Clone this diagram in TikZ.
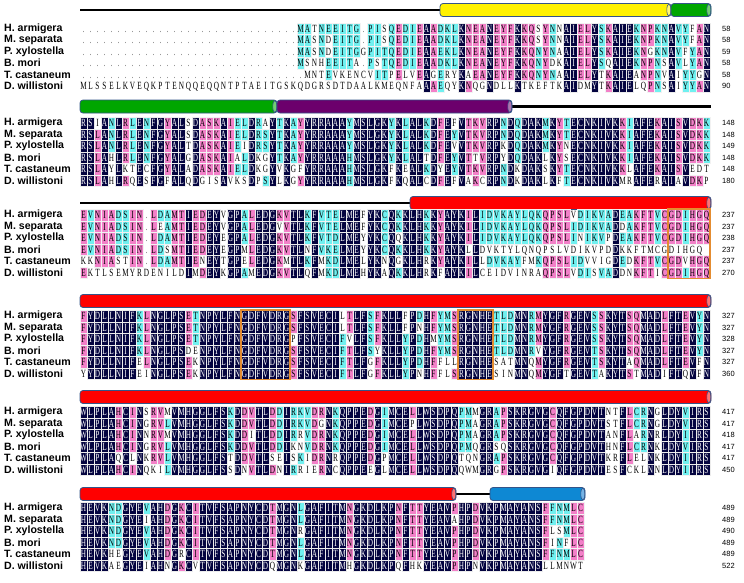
\documentclass[tikz,border=0pt]{standalone}
\usepackage{fontspec}
\setmainfont{Liberation Sans}
\newfontfamily\seqfont[FakeStretch=0.66]{Liberation Serif}
\definecolor{alnnavy}{RGB}{4,4,64}
\definecolor{alnpink}{RGB}{242,128,200}
\definecolor{alncyan}{RGB}{112,240,240}
\definecolor{boxorange}{RGB}{228,140,48}
\definecolor{cylline}{RGB}{52,84,136}

% grid of the alignment (1 unit = 1 px of the figure)
\newcommand\seqx{80}
\newcommand\seqw{7.0}
\newcommand\seqh{11.5}

\tikzset{
  res/.style={inner sep=0pt, minimum width=7pt, minimum height=11.5pt,
              text height=7.2pt, text depth=0pt,
              font=\seqfont\fontsize{11}{11}\selectfont, text=black},
  idc/.style={res, fill=alnnavy, draw=white!85!gray, line width=0.3pt, text=white},
  hic/.style={res, fill=alnpink, draw=white!90!gray, line width=0.3pt},
  mdc/.style={res, fill=alncyan, draw=white!90!gray, line width=0.3pt},
  noc/.style={res},
  gapc/.style={res, text=black!55},
  taxon/.style={font=\bfseries\fontsize{10.6}{11}\selectfont, anchor=west, inner sep=0pt},
  num/.style={font=\fontsize{7.5}{8}\selectfont, anchor=west, inner sep=0pt},
  motif/.style={draw=boxorange, line width=1.4pt}
}

\newcommand\rescell[4]{%
  \node[#3] (r\blk-#2-#1) at ({\seqx+(#1-0.5)*\seqw},{\blky+(#2-1)*\seqh}) {#4};}

% cylinder for a helix: x from, x to, y, colour
\newcommand\helix[4]{%
  \draw[cylline, line width=0.8pt, fill=#4, rounded corners=3pt] (#1,#3-6.5) rectangle (#2,#3+6.5);
  \draw[cylline, line width=0.6pt, fill=#4!55!white] (#2-2.2,#3) ellipse (2pt and 6pt);}

\ExplSyntaxOn
\int_step_inline:nn { 6 } { \str_new:c { l_aln_row_#1_str } }
\str_new:N \l_aln_c_str
\int_new:N \l_aln_cnt_int
\tl_new:N \l_aln_sty_tl
\cs_generate_variant:Nn \str_item:Nn { c }
\cs_new_protected:Npn \aln_col:n #1
 {
  \int_step_inline:nn { 6 }
   {
    \str_set:Nx \l_aln_c_str { \str_item:cn { l_aln_row_##1_str } { #1 } }
    \int_zero:N \l_aln_cnt_int
    \int_step_inline:nn { 6 }
     {
      \str_if_eq:eeT { \l_aln_c_str } { \str_item:cn { l_aln_row_####1_str } { #1 } }
       { \int_incr:N \l_aln_cnt_int }
     }
    \tl_set:Nn \l_aln_sty_tl { noc }
    \int_compare:nNnT { \l_aln_cnt_int } > { 2 } { \tl_set:Nn \l_aln_sty_tl { mdc } }
    \int_compare:nNnT { \l_aln_cnt_int } = { 5 } { \tl_set:Nn \l_aln_sty_tl { hic } }
    \int_compare:nNnT { \l_aln_cnt_int } = { 6 } { \tl_set:Nn \l_aln_sty_tl { idc } }
    \str_if_eq:eeT { \l_aln_c_str } { . } { \tl_set:Nn \l_aln_sty_tl { gapc } }
    \str_if_empty:NT \l_aln_c_str { \tl_set:Nn \l_aln_sty_tl { gapc } }
    \use:e { \exp_not:N \rescell { #1 } { ##1 } { \l_aln_sty_tl } { \l_aln_c_str } }
   }
 }
\NewDocumentCommand \seqblock { m m m m m m }
 {
  \str_set:cn { l_aln_row_1_str } {#1}
  \str_set:cn { l_aln_row_2_str } {#2}
  \str_set:cn { l_aln_row_3_str } {#3}
  \str_set:cn { l_aln_row_4_str } {#4}
  \str_set:cn { l_aln_row_5_str } {#5}
  \str_set:cn { l_aln_row_6_str } {#6}
  \int_step_function:nN { \str_count:n {#6} } \aln_col:n
 }
\ExplSyntaxOff

\begin{document}
\begin{tikzpicture}[x=1pt, y=-1pt]
    \useasboundingbox (0,0) rectangle (744,582);

    % species names and residue numbers
    \foreach \b/\yy/\nums in {1/28.5/{58,58,59,58,58,90},
                              2/123/{148,148,149,148,148,180},
                              3/215/{237,237,238,237,237,270},
                              4/316/{327,327,328,327,327,360},
                              5/412/{417,417,418,417,417,450},
                              6/508/{489,489,490,489,489,522}} {
        \foreach \nm [count=\i] in {H. armigera, M. separata, P. xylostella,
                                    B. mori, T. castaneum, D. willistoni}
            \node[taxon] (tx\b-\i) at (4, {\yy+(\i-1)*11.5}) {\nm};
        \foreach \n [count=\i] in \nums
            \node[num] (nr\b-\i) at (722, {\yy+(\i-1)*11.5}) {\n};
    }

    % secondary structure
    \draw[line width=2.6pt] (80,10) -- (440,10);
    \helix{440}{671}{10}{yellow}
    \helix{671}{711}{10}{green!65!black}
    \draw[line width=2.6pt] (512,106.5) -- (711,106.5);
    \helix{80}{277}{106.5}{green!65!black}
    \helix{277}{512}{106.5}{violet!85!black}
    \draw[line width=2.6pt] (80,203) -- (410,203);
    \helix{410}{711}{203}{red}
    \helix{80}{711}{301}{red}
    \helix{80}{711}{397}{red}
    \draw[line width=2.6pt] (455,494) -- (490,494);
    \helix{80}{456}{494}{red}
    \helix{490}{585}{494}{cyan!70!blue}

    % block 1
    \def\blk{1}\def\blky{28.5}
    \seqblock{...............................MATNEEITG.PISQEDIEAADKLKNEANEYFKKQSYNNAIELYSKAIEKNPKNAVYFAN}
             {...............................MASNDEITG.PISQEDIEAADKLKNEANEYFKKQSYNNAIELYSKAIEKNPKNAVYFAN}
             {...............................MASNDEITGGPITQEDIEAAEKLKNEANEYFKKQNYNAAIELYSKAIEKNGKNAVFYAN}
             {...............................MSNHEEITA.PSTQEDIEAADKLKNEANEYFKKQNYDKAIELYSQAIEKNPNSAVLYAN}
             {................................MNTEVKENCVITPELVEAGERYKAEANEYFKKQNYNAAIELYTKAIEANPNVAIYYGN}
             {MLSSELKVEQKPTENQQEQQNTPTAEITGSKQDGRSDTDAALKMEQNFAAAEQYKNQGNDLLKTKEFTKAIDMYTKAIELQPNSAIYYAN}

    % block 2
    \def\blk{2}\def\blky{123}
    \seqblock{RSIANLRLENFGYALSDASKAIELDRAYTKAYYRRAAAYMSLGKYKLALKDFEFVTKVRPNDQDAKMKYTECNKIVKKIAFEKAISVDKK}
             {RSLANLRLENFGYALSDASKAIELDRSYTKAYYRRAAAYMSLGKYKLALKDFEYVTKVRPNDQDAKMKYTECNKIVKKIAFEKAISVDKK}
             {RSLANLRLENFGYALTDASKAIEIDRSYTKAYYRRAAAYMSLGKYKLALKDFEVVTKVRPKDQDAKMKYNECNKIVKKIAFEKAISVDKK}
             {RSLAHLRLENFGYALGDASKAIALDKGYTKAYYRRAAAHMSLGKYKLALTDFEYVTTVRPYDQDAKLKYSECNKIVKKIAFEKAISVDKK}
             {RSLAYLKTECFGYALADASKAIELDKGYVKGFYRRAAAHMSLGKFKEALKDYEYVTKVRPNDKDAKSKYTECNKIVKKLAFEKAISVEDT}
             {RSLAHLRQESFGFALQDGISAVKSDPSYLKGYYRRAAAHMSLGKFKQALCDFEFVAKCRPNDKDAKLKFTECNKIVKMRAFERAIAVDKP}

    % block 3
    \def\blk{3}\def\blky{215}
    \seqblock{EVNIADSIN.LDAMTIEDEYVGPALEDGKVTLKFVTELMEFYKCQKKLHKKYAYKILIDVKAYLQKQPSLVDIKVADEAKFTVCGDIHGQ}
             {EVNIADSIN.LEAMTIEDEYVGPALEDGVVTLKFVTELMEFYKCQKKLHKKYAYKILIDVKAYLQKQPSLIDIKVADDAKFTVCGDIHGQ}
             {EVNIADSIN.LDAMTIEDEYEGPALEDGKVTLKFVTDLMEYYKCQQKLHKKYAYKILIDVKAYLQKQPSLINIKVPDEAKFTVCGDIHGQ}
             {EVNIADSIN.LDSMTIEDEYEGPMLEDGKVTLNFVKELMEYYKCQKKLHKKYAYKLLDVKTYLQNQPSLVDIKVPDDKKFTMCGDIHGQ}
             {KKNIASTIN.LDAMTIENEYTGPELEDGKMTLKFMKDLMELYKNQGKLHRKYAYKILLDVKAYFMKQPSLIDVVIGDEDKFTVCGDVHGQ}
             {EKTLSEMYRDENILDIMDEYKGPAMEDGKVTLQFMKDLMEHYKAQKKLHRKFAYKILCEIDVINRAQPSLVDISVADDNKFTICGDIHGQ}

    % block 4
    \def\blk{4}\def\blky{316}
    \seqblock{FYDLLNIFKLNGLPSETNPYLFNGDFVDRGSFSVECILTLFSFKLLFPDHFYMSRGNHETLDMNRMYGFRGEVSSKYTSQMADLFTEVYN}
             {FYDLLNIFKLNGLPSETNPYLFNGDFVDRGSFSVECILTLFSFKLLFPNHFYMSRGNHETLDMNRMYGFRGEVSSKYTSQMADLFTEVYN}
             {FYDLLNIFKLNGLPSETNPYLFNGDFVDRGPFSVECIFVLFSFKLLYPDHMYMSRGNHETLDMNRMYGFRGEVSSKYTSQMADLFTEVYN}
             {FYDLLNIFKLNGLPSDENPYLFNGDFVDRGSFSVECIFTLFSYKLLYPDHFYMSRGNHETLDMNRVYGFRGEVTSKYTSQMADLFTEVYN}
             {FYDLLNIFELNGLPSEKNPYLFNGDFVDRGSFSVECIFTLFGFKLLYPDHFFLLRGNHESATMNQMYGFRGEVTSKYTAQMADLFTEVFN}
             {YYDLLNIFEINGLPSEKNPYLFNGDFVDRGSFSVECIFTLFGFKLLYPNHFFLSRGNHESINMNQMYGFTGEVTAKYTSTMADIFTQVFN}

    % block 5
    \def\blk{5}\def\blky{412}
    \seqblock{WLPLAHCINSRVMVMHGGLFSKDDVTLDDIRKVDRNKQPPEDGIMCELLWSDPQPMMGRAPSKRGVGCQFGPDVTNTFLCRNGLDYVIRS}
             {WLPLAHCINGRVLVMHGGLFSKDDVTLDDIRKVDGNKQPPEDGIMCEPLWSDPQPMAGRAPSKRGVGCQFGPDVTSTFLCRNGLDYVIRS}
             {WLPLAHCINNRVMVMHGGLFSKDDITLDDIRRVDRNKQPPEDGIMCELLWSDPQPMAGRAPSKRGVGCQFGPDVTANFLARNRLDYIIRS}
             {WLPLAHCINGRVLVMHGGLFSKDDVTLDDIKNVDRNKQPPEDGIMCELLWSDPQPMQGRSQSKRGVGCQFGPDVTHNFLCRNKLDYVIRS}
             {WLPLAQCLNKRVLVMHGGLFSTDDVTLSEISKIDRNRQPPEDGPMCELLWSDPQTQNGRAPSKRGVGCQFGPDVTKRFLELNKLDYIIRS}
             {WLPLAHCINQKILVMHGGLFSSDNVTLDNIRRIERNCQPPEEGLMCELLWSDPQQWMGRGPSKRGVGIQFGPDVTESFCKLNNLDYIIRS}

    % block 6
    \def\blk{6}\def\blky{508}
    \seqblock{HEVKNDGYEVAHDGKCITVFSAPNYCDTMGNLGAFITMNGKDLKPNFTTYEAVPHPDVKPMAYANSFFNMLC}
             {HEVKNDGYEIAHDGKCITVFSAPNYCDTMGNLGAFITMNGKDLKPNFTTYEAVAHPDVKPMAYANSFFNMLC}
             {HEVKNDGYEVAHDGKCITVFSAPNYCDTMGNRGAFITMNGKDLKPNFTTYEAVPHPDVKPMAYANSFLSMLC}
             {HEVKNDGYEVAHDGKCITVFSAPNYCDTMGNLGAFITMNGKDLKPNFTTYEAVPHPDVKPMAYANSFINFLC}
             {HEVKHEGYEVAHDGRCITVFSAPNYCDTMGNLGAFITMNGKDLKPNFTTYEAVPHPDVKPMAYANSFFNMLC}
             {HEVKAEGYEIAHNGKCVTVFSAPNYCDQMGNKGAFITMHGKDLKPQFHKYEAVPHPNVKPMAYANSLLMNWT}

    % conserved motifs
    \draw[motif] (r3-1-85.north west) rectangle (r3-6-90.south east);
    \draw[motif] (r4-1-24.north west) rectangle (r4-6-30.south east);
    \draw[motif] (r4-1-55.north west) rectangle (r4-6-59.south east);

\end{tikzpicture}
\end{document}
